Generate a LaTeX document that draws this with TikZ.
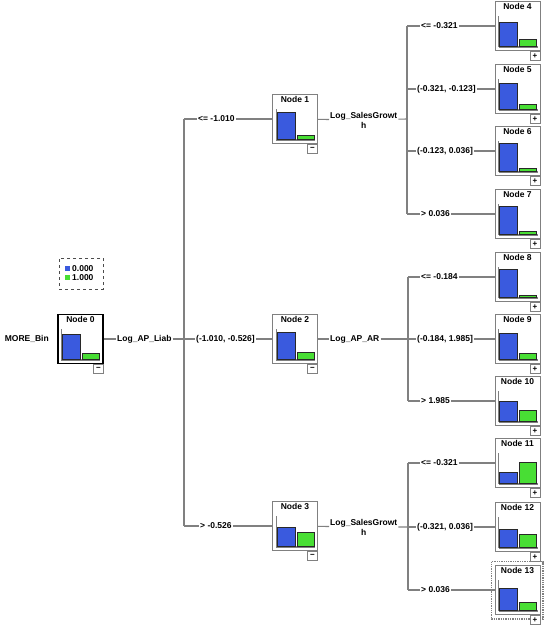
\documentclass[tikz,border=0pt]{standalone}
\usepackage{fontspec}
\setmainfont{Liberation Sans}
\usetikzlibrary{arrows.meta,positioning}

\definecolor{barblue}{RGB}{58,90,222}
\definecolor{bargreen}{RGB}{72,222,52}
\definecolor{linegray}{RGB}{128,128,128}
\definecolor{bargray}{RGB}{40,40,40}

\tikzset{
	tnode/.style={draw=linegray, fill=white, line width=0.8pt, minimum width=45pt, minimum height=49pt, inner sep=0pt},
	rootnode/.style={tnode, draw=black, line width=1.6pt},
	tlabel/.style={font=\bfseries\fontsize{8.5}{10}\selectfont, inner sep=1pt},
	wire/.style={draw=linegray, line width=1.1pt},
	btn/.style={draw=linegray, fill=white, line width=0.7pt, minimum width=10pt, minimum height=9pt, inner sep=0pt, anchor=north east, font=\bfseries\fontsize{8}{8}\selectfont},
	legendbox/.style={draw=black!70, dashed, line width=1pt, minimum width=44pt, minimum height=31pt, inner sep=0pt}
}

% \treenode{name}{style}{x,y}{title}{blue}{green}{button}
\newcommand{\treenode}[7]{%
	\node [#2] at (#3) (#1) {};
	\node [tlabel, below=1.5pt of #1.north] (#1t) {#4};
	\begin{scope}[shift={(#1.south west)}]
		\draw [linegray, line width=0.8pt] (4,-4) -- (4,-35);
		\draw [linegray, line width=2pt] (4,-4) -- (43,-4);
		\draw [fill=barblue, draw=bargray, line width=0.6pt] (5,-5) rectangle (23,{-5-#5});
		\draw [fill=bargreen, draw=bargray, line width=0.6pt] (25,-5) rectangle (42,{-5-#6});
	\end{scope}
	\node [btn] at (#1.south east) (#1b) {#7};
}

\begin{document}
\begin{tikzpicture}[x=1pt,y=-1pt]
	\useasboundingbox (0,0) rectangle (544,626);

	% legend
	\node [legendbox] at (81,273.5) (legend) {};
	\fill [barblue] (65,266) rectangle (70,271);
	\fill [bargreen] (65,275) rectangle (70,280);
	\node [tlabel, anchor=west] at (71,268.5) (leg_0) {0.000};
	\node [tlabel, anchor=west] at (71,277.5) (leg_1) {1.000};

	% selection frame round node 13
	\draw [linegray, densely dotted, line width=1.3pt] (491.5,561.5) rectangle (543,619);

	% tree nodes
	\treenode{n_0}{rootnode}{80.5,339}{Node 0}{25}{6}{−}
	\treenode{n_1}{tnode}{295,119}{Node 1}{27}{4}{−}
	\treenode{n_2}{tnode}{295,339}{Node 2}{27}{7}{−}
	\treenode{n_3}{tnode}{295,526}{Node 3}{19}{14}{−}
	\treenode{n_4}{tnode}{517.5,26}{Node 4}{24}{7}{+}
	\treenode{n_5}{tnode}{517.5,89}{Node 5}{26}{5}{+}
	\treenode{n_6}{tnode}{517.5,151}{Node 6}{28}{3}{+}
	\treenode{n_7}{tnode}{517.5,214}{Node 7}{28}{3}{+}
	\treenode{n_8}{tnode}{517.5,277}{Node 8}{28}{2}{+}
	\treenode{n_9}{tnode}{517.5,339}{Node 9}{26}{6}{+}
	\treenode{n_10}{tnode}{517.5,401}{Node 10}{20}{11}{+}
	\treenode{n_11}{tnode}{517.5,463}{Node 11}{11}{21}{+}
	\treenode{n_12}{tnode}{517.5,527}{Node 12}{18}{13}{+}
	\treenode{n_13}{tnode}{517.5,590}{Node 13}{22}{8}{+}

	% target and split variables
	\node [tlabel, anchor=east] at (50,339) (target) {MORE\_Bin};
	\node [tlabel, anchor=west] at (116,339) (s_0) {Log\_AP\_Liab};
	\node [tlabel, anchor=west, align=center] at (329,120) (s_1) {Log\_SalesGrowt\\h};
	\node [tlabel, anchor=west] at (329,339) (s_2) {Log\_AP\_AR};
	\node [tlabel, anchor=west, align=center] at (329,527) (s_3) {Log\_SalesGrowt\\h};

	\coordinate (c_1) at (184,339);
	\coordinate (c_2) at (407,119);
	\coordinate (c_3) at (408,339);
	\coordinate (c_4) at (408,527);

	% branch values
	\node [tlabel, anchor=west] at (197,119) (b_1) {<= -1.010};
	\node [tlabel, anchor=west] at (195,339) (b_2) {(-1.010, -0.526]};
	\node [tlabel, anchor=west] at (199,526) (b_3) {> -0.526};
	\node [tlabel, anchor=west] at (420,26) (b_4) {<= -0.321};
	\node [tlabel, anchor=west] at (416,89) (b_5) {(-0.321, -0.123]};
	\node [tlabel, anchor=west] at (416,151) (b_6) {(-0.123, 0.036]};
	\node [tlabel, anchor=west] at (420,214) (b_7) {> 0.036};
	\node [tlabel, anchor=west] at (420,277) (b_8) {<= -0.184};
	\node [tlabel, anchor=west] at (416,339) (b_9) {(-0.184, 1.985]};
	\node [tlabel, anchor=west] at (420,401) (b_10) {> 1.985};
	\node [tlabel, anchor=west] at (420,463) (b_11) {<= -0.321};
	\node [tlabel, anchor=west] at (416,527) (b_12) {(-0.321, 0.036]};
	\node [tlabel, anchor=west] at (420,590) (b_13) {> 0.036};

	% connectors
	\draw [wire] (n_0) -- (s_0) -- (s_0 -| c_1);
	\draw [wire] (b_1 -| c_1) -- (b_3 -| c_1);
	\foreach \b in {1,2,3}
		\draw [wire] (b_\b -| c_1) -- (b_\b) -- (n_\b);

	\draw [wire] (n_1) -- (s_1) -- (c_2);
	\draw [wire] (b_4 -| c_2) -- (b_7 -| c_2);
	\draw [wire] (n_2) -- (s_2) -- (c_3);
	\draw [wire] (b_8 -| c_3) -- (b_10 -| c_3);
	\draw [wire] (n_3) -- (s_3) -- (c_4);
	\draw [wire] (b_11 -| c_4) -- (b_13 -| c_4);
	\foreach \b/\c in {4/2,5/2,6/2,7/2,8/3,9/3,10/3,11/4,12/4,13/4}
		\draw [wire] (b_\b -| c_\c) -- (b_\b) -- (n_\b);

\end{tikzpicture}
\end{document}
